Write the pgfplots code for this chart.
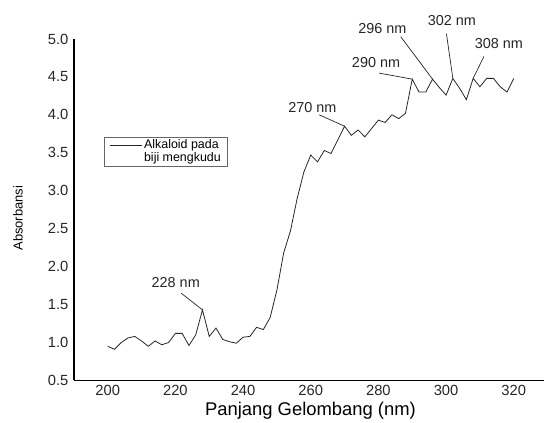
\documentclass[border=0pt]{standalone}
\usepackage{pgfplots}
\pgfplotsset{compat=1.18}
\usepackage{fontspec}
\setmainfont{Liberation Sans}
\begin{document}
\begin{tikzpicture}
\begin{axis}[
  scale only axis,
  width=471bp, height=342bp,
  xmin=190, xmax=329, ymin=0.5, ymax=5.0,
  axis lines*=left,
  axis line style={line width=1.6bp, black, -},
  xtick={200,220,...,320},
  ytick={0.5,1.0,...,5.0},
  yticklabel style={/pgf/number format/fixed, /pgf/number format/fixed zerofill, /pgf/number format/precision=1},
  /pgf/number format/assume math mode=true,
  major tick length=0pt,
  tick style={draw=none},
  ticklabel style={font=\fontsize{14.8}{16}\selectfont, text=black!85},
  yticklabel style={xshift=-2bp},
  xticklabel style={yshift=-1bp},
  xlabel={Panjang Gelombang (nm)},
  xlabel style={at={(axis description cs:0.503,0)}, anchor=base, yshift=-35bp, font=\fontsize{18.5}{20}\selectfont},
  ylabel={Absorbansi},
  ylabel style={at={(axis description cs:-0.119,0.475)}, anchor=center, font=\fontsize{13}{14}\selectfont},
  clip=false,
  legend style={at={(rel axis cs:0.064,0.714)}, anchor=north west, draw=black!60, line width=0.7bp,
    font=\fontsize{12.5}{13}\selectfont, inner xsep=5bp, inner ysep=1bp,
    nodes={align=left, inner sep=2bp}},
  legend image code/.code={\draw[#1, line width=0.7bp] (0bp,6.5bp) -- (27bp,6.5bp);
    \path (0bp,6.5bp) -- (32bp,6.5bp);},
]
\addplot[black!85, line width=0.8bp] table {
200 0.95
202 0.91
204 1.00
206 1.06
208 1.08
210 1.02
212 0.95
214 1.02
216 0.97
218 1.00
220 1.12
222 1.12
224 0.96
226 1.10
228 1.43
230 1.08
232 1.19
234 1.04
236 1.01
238 0.99
240 1.07
242 1.08
244 1.20
246 1.17
248 1.33
250 1.69
252 2.18
254 2.47
256 2.90
258 3.25
260 3.47
262 3.38
264 3.53
266 3.49
268 3.67
270 3.85
272 3.73
274 3.80
276 3.71
278 3.82
280 3.93
282 3.90
284 4.00
286 3.95
288 4.02
290 4.47
292 4.30
294 4.30
296 4.47
298 4.36
300 4.26
302 4.48
304 4.35
306 4.20
308 4.48
310 4.37
312 4.48
314 4.48
316 4.37
318 4.30
320 4.48
};
\addlegendentry{Alkaloid pada\\biji mengkudu}
\begin{scope}[every node/.style={font=\fontsize{14.5}{16}\selectfont, text=black!85, inner sep=0pt}]
\draw[black!85, line width=0.7bp] (axis cs:221.7,1.65) -- (axis cs:228,1.43);
\node at (axis cs:220.1,1.79) {228 nm};
\draw[black!85, line width=0.7bp] (axis cs:262.5,4.00) -- (axis cs:270,3.85);
\node at (axis cs:260.5,4.10) {270 nm};
\draw[black!85, line width=0.7bp] (axis cs:280.2,4.55) -- (axis cs:290,4.47);
\node at (axis cs:279.3,4.69) {290 nm};
\draw[black!85, line width=0.7bp] (axis cs:286.6,5.03) -- (axis cs:296,4.47);
\node at (axis cs:281.2,5.14) {296 nm};
\draw[black!85, line width=0.7bp] (axis cs:300.1,5.07) -- (axis cs:302,4.48);
\node at (axis cs:301.7,5.24) {302 nm};
\draw[black!85, line width=0.7bp] (axis cs:311.2,4.77) -- (axis cs:308,4.48);
\node at (axis cs:315.6,4.94) {308 nm};
\end{scope}
\end{axis}
\path (current axis.south west) ++(-74bp,-38bp) coordinate (bl);
\path (current axis.north east) ++(0bp,39bp) coordinate (tr);
\path (bl) rectangle (tr);
\end{tikzpicture}
\end{document}
